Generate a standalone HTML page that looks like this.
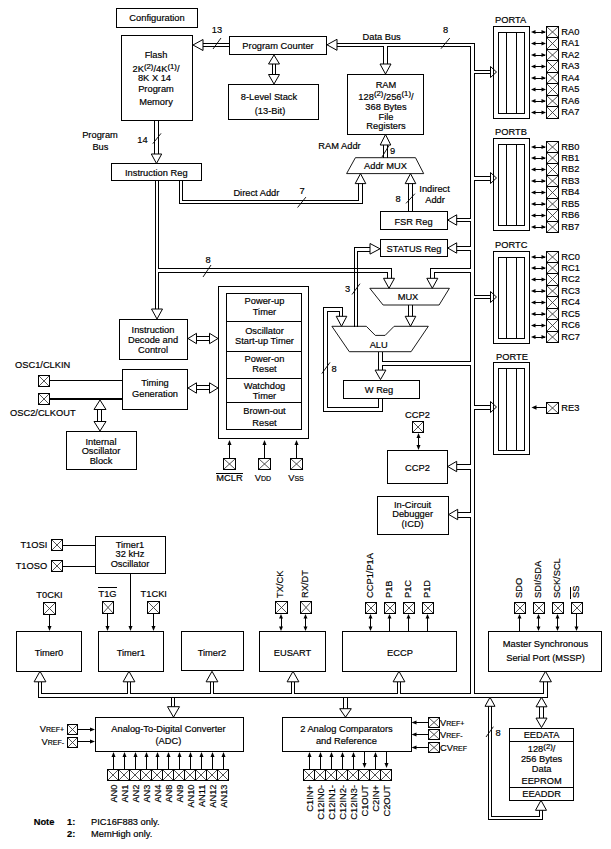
<!DOCTYPE html>
<html><head><meta charset="utf-8"><style>
html,body{margin:0;padding:0;background:#fff;width:611px;height:849px;overflow:hidden}
svg{display:block}
text{font-family:"Liberation Sans",sans-serif;fill:#000;stroke:#000;stroke-width:0.18px}
</style></head><body>
<svg width="611" height="849" viewBox="0 0 611 849">
<rect width="611" height="849" fill="#fff"/>
<g fill="#000">
<rect x="116" y="8" width="82" height="1"/>
<rect x="116" y="27" width="82" height="1"/>
<rect x="116" y="8" width="1" height="20"/>
<rect x="197" y="8" width="1" height="20"/>
<text x="157" y="20.5" font-size="9.3" text-anchor="middle">Configuration</text>
<rect x="121" y="35" width="72" height="1"/>
<rect x="121" y="120" width="72" height="1"/>
<rect x="121" y="35" width="1" height="86"/>
<rect x="192" y="35" width="1" height="86"/>
<text x="156" y="58" font-size="9.3" text-anchor="middle">Flash</text>
<text x="156" y="72" font-size="9.3" text-anchor="middle">2K<tspan font-size="7.8" dy="-3.5">(2)</tspan><tspan dy="3.5">/4K</tspan><tspan font-size="7.8" dy="-3.5">(1)</tspan><tspan dy="3.5">/</tspan></text>
<text x="154.5" y="80.5" font-size="9.3" text-anchor="middle">8K X 14</text>
<text x="156" y="91.7" font-size="9.3" text-anchor="middle">Program</text>
<text x="156" y="105" font-size="9.3" text-anchor="middle">Memory</text>
<rect x="229" y="36" width="98" height="1"/>
<rect x="229" y="54" width="98" height="1"/>
<rect x="229" y="36" width="1" height="19"/>
<rect x="326" y="36" width="1" height="19"/>
<text x="278" y="49" font-size="9.3" text-anchor="middle">Program Counter</text>
<rect x="203" y="43" width="26" height="1"/>
<rect x="203" y="46" width="26" height="1"/>
<polygon points="193,45 203,39.5 203,50.5" fill="#fff" stroke="#000" stroke-width="1"/>
<text x="217" y="33" font-size="9.3" text-anchor="middle">13</text>
<line x1="213" y1="49" x2="221" y2="38" stroke="#000" stroke-width="0.9"/>
<rect x="228" y="84" width="91" height="1"/>
<rect x="228" y="119" width="91" height="1"/>
<rect x="228" y="84" width="1" height="36"/>
<rect x="318" y="84" width="1" height="36"/>
<text x="269" y="99.5" font-size="9.3" text-anchor="middle">8-Level Stack</text>
<text x="270" y="113.5" font-size="9.3" text-anchor="middle">(13-Bit)</text>
<rect x="272" y="64" width="1" height="11"/>
<rect x="275" y="64" width="1" height="11"/>
<polygon points="274,55 268.5,64 279.5,64" fill="#fff" stroke="#000" stroke-width="1"/>
<polygon points="274,84 268.5,74.5 279.5,74.5" fill="#fff" stroke="#000" stroke-width="1"/>
<rect x="337" y="43" width="138" height="1"/>
<rect x="337" y="46" width="47" height="1"/>
<rect x="388" y="46" width="83" height="1"/>
<polygon points="327,44.8 337,39.3 337,50.3" fill="#fff" stroke="#000" stroke-width="1"/>
<text x="362.5" y="39.6" font-size="9.3" text-anchor="start">Data Bus</text>
<rect x="383" y="46" width="1" height="19"/>
<rect x="387" y="46" width="1" height="19"/>
<polygon points="385.5,74 380.0,64 391.0,64" fill="#fff" stroke="#000" stroke-width="1"/>
<text x="445.5" y="33" font-size="9.3" text-anchor="middle">8</text>
<line x1="441" y1="48.7" x2="449.8" y2="38" stroke="#000" stroke-width="0.9"/>
<rect x="347" y="74" width="77" height="1"/>
<rect x="347" y="134" width="77" height="1"/>
<rect x="347" y="74" width="1" height="61"/>
<rect x="423" y="74" width="1" height="61"/>
<text x="386" y="87.5" font-size="9.3" text-anchor="middle">RAM</text>
<text x="386" y="99.5" font-size="9.3" text-anchor="middle">128<tspan font-size="7.8" dy="-3.5">(2)</tspan><tspan dy="3.5">/256</tspan><tspan font-size="7.8" dy="-3.5">(1)</tspan><tspan dy="3.5">/</tspan></text>
<text x="386" y="109.5" font-size="9.3" text-anchor="middle">368 Bytes</text>
<text x="386" y="119.5" font-size="9.3" text-anchor="middle">File</text>
<text x="386" y="128.5" font-size="9.3" text-anchor="middle">Registers</text>
<rect x="474" y="43" width="1" height="28"/>
<rect x="470" y="46" width="1" height="173"/>
<rect x="474" y="70" width="17" height="1"/>
<rect x="474" y="73" width="17" height="1"/>
<polygon points="496.5,72 490.5,66.5 490.5,77.5" fill="none" stroke="#000" stroke-width="1"/>
<rect x="474" y="73" width="1" height="104"/>
<rect x="474" y="176" width="17" height="1"/>
<rect x="474" y="180" width="17" height="1"/>
<polygon points="496.5,178 490.5,172.5 490.5,183.5" fill="none" stroke="#000" stroke-width="1"/>
<rect x="474" y="180" width="1" height="116"/>
<rect x="474" y="295" width="17" height="1"/>
<rect x="474" y="298" width="17" height="1"/>
<polygon points="496.5,297 490.5,291.5 490.5,302.5" fill="none" stroke="#000" stroke-width="1"/>
<rect x="474" y="298" width="1" height="108"/>
<rect x="474" y="405" width="17" height="1"/>
<rect x="474" y="409" width="17" height="1"/>
<polygon points="496.5,407 490.5,401.5 490.5,412.5" fill="none" stroke="#000" stroke-width="1"/>
<rect x="474" y="409" width="1" height="285"/>
<rect x="456" y="218" width="15" height="1"/>
<rect x="456" y="221" width="15" height="1"/>
<polygon points="447.7,220 456.7,214.8 456.7,225.2" fill="#fff" stroke="#000" stroke-width="1"/>
<rect x="470" y="221" width="1" height="26"/>
<rect x="456" y="246" width="15" height="1"/>
<rect x="456" y="250" width="15" height="1"/>
<polygon points="447.7,248 456.7,242.8 456.7,253.2" fill="#fff" stroke="#000" stroke-width="1"/>
<rect x="470" y="250" width="1" height="19"/>
<rect x="430" y="268" width="41" height="1"/>
<rect x="434" y="272" width="37" height="1"/>
<rect x="470" y="272" width="1" height="90"/>
<rect x="382" y="361" width="89" height="1"/>
<rect x="382" y="365" width="89" height="1"/>
<rect x="470" y="365" width="1" height="100"/>
<rect x="457" y="464" width="14" height="1"/>
<rect x="457" y="469" width="14" height="1"/>
<polygon points="447.7,466.5 456.7,461.3 456.7,471.7" fill="#fff" stroke="#000" stroke-width="1"/>
<rect x="470" y="469" width="1" height="44"/>
<rect x="458" y="512" width="13" height="1"/>
<rect x="458" y="517" width="13" height="1"/>
<polygon points="448.7,514.5 457.7,509.3 457.7,519.7" fill="#fff" stroke="#000" stroke-width="1"/>
<rect x="470" y="517" width="1" height="177"/>
<rect x="493" y="26" width="37" height="1"/>
<rect x="493" y="118" width="37" height="1"/>
<rect x="493" y="26" width="1" height="93"/>
<rect x="529" y="26" width="1" height="93"/>
<rect x="498" y="32" width="27" height="1"/>
<rect x="498" y="113" width="27" height="1"/>
<rect x="498" y="32" width="1" height="82"/>
<rect x="524" y="32" width="1" height="82"/>
<rect x="506" y="32" width="1" height="82"/>
<rect x="516" y="32" width="1" height="82"/>
<text x="495" y="23" font-size="9.3" text-anchor="start">PORTA</text>
<line x1="547" y1="27" x2="558" y2="37" stroke="#333" stroke-width="0.85"/>
<line x1="558" y1="27" x2="547" y2="37" stroke="#333" stroke-width="0.85"/>
<rect x="546" y="26" width="13" height="1"/>
<rect x="546" y="37" width="13" height="1"/>
<rect x="546" y="26" width="1" height="12"/>
<rect x="558" y="26" width="1" height="12"/>
<rect x="533" y="32" width="12" height="1"/>
<polygon points="531,32.0 535.5,30.0 535.5,34.0"/>
<polygon points="546,32.0 541.5,30.0 541.5,34.0"/>
<text x="561.3" y="34.5" font-size="9.3" text-anchor="start">RA0</text>
<line x1="547" y1="38" x2="558" y2="49" stroke="#333" stroke-width="0.85"/>
<line x1="558" y1="38" x2="547" y2="49" stroke="#333" stroke-width="0.85"/>
<rect x="546" y="37" width="13" height="1"/>
<rect x="546" y="49" width="13" height="1"/>
<rect x="546" y="37" width="1" height="13"/>
<rect x="558" y="37" width="1" height="13"/>
<rect x="533" y="43" width="12" height="1"/>
<polygon points="531,43.5 535.5,41.5 535.5,45.5"/>
<polygon points="546,43.5 541.5,41.5 541.5,45.5"/>
<text x="561.3" y="45.5" font-size="9.3" text-anchor="start">RA1</text>
<line x1="547" y1="50" x2="558" y2="60" stroke="#333" stroke-width="0.85"/>
<line x1="558" y1="50" x2="547" y2="60" stroke="#333" stroke-width="0.85"/>
<rect x="546" y="49" width="13" height="1"/>
<rect x="546" y="60" width="13" height="1"/>
<rect x="546" y="49" width="1" height="12"/>
<rect x="558" y="49" width="1" height="12"/>
<rect x="533" y="55" width="12" height="1"/>
<polygon points="531,55.0 535.5,53.0 535.5,57.0"/>
<polygon points="546,55.0 541.5,53.0 541.5,57.0"/>
<text x="561.3" y="57.5" font-size="9.3" text-anchor="start">RA2</text>
<line x1="547" y1="61" x2="558" y2="72" stroke="#333" stroke-width="0.85"/>
<line x1="558" y1="61" x2="547" y2="72" stroke="#333" stroke-width="0.85"/>
<rect x="546" y="60" width="13" height="1"/>
<rect x="546" y="72" width="13" height="1"/>
<rect x="546" y="60" width="1" height="13"/>
<rect x="558" y="60" width="1" height="13"/>
<rect x="533" y="66" width="12" height="1"/>
<polygon points="531,66.5 535.5,64.5 535.5,68.5"/>
<polygon points="546,66.5 541.5,64.5 541.5,68.5"/>
<text x="561.3" y="68.5" font-size="9.3" text-anchor="start">RA3</text>
<line x1="547" y1="73" x2="558" y2="83" stroke="#333" stroke-width="0.85"/>
<line x1="558" y1="73" x2="547" y2="83" stroke="#333" stroke-width="0.85"/>
<rect x="546" y="72" width="13" height="1"/>
<rect x="546" y="83" width="13" height="1"/>
<rect x="546" y="72" width="1" height="12"/>
<rect x="558" y="72" width="1" height="12"/>
<rect x="533" y="78" width="12" height="1"/>
<polygon points="531,78.0 535.5,76.0 535.5,80.0"/>
<polygon points="546,78.0 541.5,76.0 541.5,80.0"/>
<text x="561.3" y="80.5" font-size="9.3" text-anchor="start">RA4</text>
<line x1="547" y1="84" x2="558" y2="95" stroke="#333" stroke-width="0.85"/>
<line x1="558" y1="84" x2="547" y2="95" stroke="#333" stroke-width="0.85"/>
<rect x="546" y="83" width="13" height="1"/>
<rect x="546" y="95" width="13" height="1"/>
<rect x="546" y="83" width="1" height="13"/>
<rect x="558" y="83" width="1" height="13"/>
<rect x="533" y="89" width="12" height="1"/>
<polygon points="531,89.5 535.5,87.5 535.5,91.5"/>
<polygon points="546,89.5 541.5,87.5 541.5,91.5"/>
<text x="561.3" y="91.5" font-size="9.3" text-anchor="start">RA5</text>
<line x1="547" y1="96" x2="558" y2="106" stroke="#333" stroke-width="0.85"/>
<line x1="558" y1="96" x2="547" y2="106" stroke="#333" stroke-width="0.85"/>
<rect x="546" y="95" width="13" height="1"/>
<rect x="546" y="106" width="13" height="1"/>
<rect x="546" y="95" width="1" height="12"/>
<rect x="558" y="95" width="1" height="12"/>
<rect x="533" y="101" width="12" height="1"/>
<polygon points="531,101.0 535.5,99.0 535.5,103.0"/>
<polygon points="546,101.0 541.5,99.0 541.5,103.0"/>
<text x="561.3" y="103.5" font-size="9.3" text-anchor="start">RA6</text>
<line x1="547" y1="107" x2="558" y2="118" stroke="#333" stroke-width="0.85"/>
<line x1="558" y1="107" x2="547" y2="118" stroke="#333" stroke-width="0.85"/>
<rect x="546" y="106" width="13" height="1"/>
<rect x="546" y="118" width="13" height="1"/>
<rect x="546" y="106" width="1" height="13"/>
<rect x="558" y="106" width="1" height="13"/>
<rect x="533" y="112" width="12" height="1"/>
<polygon points="531,112.5 535.5,110.5 535.5,114.5"/>
<polygon points="546,112.5 541.5,110.5 541.5,114.5"/>
<text x="561.3" y="114.5" font-size="9.3" text-anchor="start">RA7</text>
<rect x="493" y="138" width="37" height="1"/>
<rect x="493" y="230" width="37" height="1"/>
<rect x="493" y="138" width="1" height="93"/>
<rect x="529" y="138" width="1" height="93"/>
<rect x="498" y="144" width="27" height="1"/>
<rect x="498" y="225" width="27" height="1"/>
<rect x="498" y="144" width="1" height="82"/>
<rect x="524" y="144" width="1" height="82"/>
<rect x="506" y="144" width="1" height="82"/>
<rect x="516" y="144" width="1" height="82"/>
<text x="495" y="135" font-size="9.3" text-anchor="start">PORTB</text>
<line x1="547" y1="142" x2="558" y2="152" stroke="#333" stroke-width="0.85"/>
<line x1="558" y1="142" x2="547" y2="152" stroke="#333" stroke-width="0.85"/>
<rect x="546" y="141" width="13" height="1"/>
<rect x="546" y="152" width="13" height="1"/>
<rect x="546" y="141" width="1" height="12"/>
<rect x="558" y="141" width="1" height="12"/>
<rect x="533" y="147" width="12" height="1"/>
<polygon points="531,147.0 535.5,145.0 535.5,149.0"/>
<polygon points="546,147.0 541.5,145.0 541.5,149.0"/>
<text x="561.3" y="149.5" font-size="9.3" text-anchor="start">RB0</text>
<line x1="547" y1="153" x2="558" y2="163" stroke="#333" stroke-width="0.85"/>
<line x1="558" y1="153" x2="547" y2="163" stroke="#333" stroke-width="0.85"/>
<rect x="546" y="152" width="13" height="1"/>
<rect x="546" y="163" width="13" height="1"/>
<rect x="546" y="152" width="1" height="12"/>
<rect x="558" y="152" width="1" height="12"/>
<rect x="533" y="158" width="12" height="1"/>
<polygon points="531,158.0 535.5,156.0 535.5,160.0"/>
<polygon points="546,158.0 541.5,156.0 541.5,160.0"/>
<text x="561.3" y="160.5" font-size="9.3" text-anchor="start">RB1</text>
<line x1="547" y1="164" x2="558" y2="175" stroke="#333" stroke-width="0.85"/>
<line x1="558" y1="164" x2="547" y2="175" stroke="#333" stroke-width="0.85"/>
<rect x="546" y="163" width="13" height="1"/>
<rect x="546" y="175" width="13" height="1"/>
<rect x="546" y="163" width="1" height="13"/>
<rect x="558" y="163" width="1" height="13"/>
<rect x="533" y="169" width="12" height="1"/>
<polygon points="531,169.5 535.5,167.5 535.5,171.5"/>
<polygon points="546,169.5 541.5,167.5 541.5,171.5"/>
<text x="561.3" y="171.5" font-size="9.3" text-anchor="start">RB2</text>
<line x1="547" y1="176" x2="558" y2="186" stroke="#333" stroke-width="0.85"/>
<line x1="558" y1="176" x2="547" y2="186" stroke="#333" stroke-width="0.85"/>
<rect x="546" y="175" width="13" height="1"/>
<rect x="546" y="186" width="13" height="1"/>
<rect x="546" y="175" width="1" height="12"/>
<rect x="558" y="175" width="1" height="12"/>
<rect x="533" y="181" width="12" height="1"/>
<polygon points="531,181.0 535.5,179.0 535.5,183.0"/>
<polygon points="546,181.0 541.5,179.0 541.5,183.0"/>
<text x="561.3" y="183.5" font-size="9.3" text-anchor="start">RB3</text>
<line x1="547" y1="187" x2="558" y2="198" stroke="#333" stroke-width="0.85"/>
<line x1="558" y1="187" x2="547" y2="198" stroke="#333" stroke-width="0.85"/>
<rect x="546" y="186" width="13" height="1"/>
<rect x="546" y="198" width="13" height="1"/>
<rect x="546" y="186" width="1" height="13"/>
<rect x="558" y="186" width="1" height="13"/>
<rect x="533" y="192" width="12" height="1"/>
<polygon points="531,192.5 535.5,190.5 535.5,194.5"/>
<polygon points="546,192.5 541.5,190.5 541.5,194.5"/>
<text x="561.3" y="194.5" font-size="9.3" text-anchor="start">RB4</text>
<line x1="547" y1="199" x2="558" y2="209" stroke="#333" stroke-width="0.85"/>
<line x1="558" y1="199" x2="547" y2="209" stroke="#333" stroke-width="0.85"/>
<rect x="546" y="198" width="13" height="1"/>
<rect x="546" y="209" width="13" height="1"/>
<rect x="546" y="198" width="1" height="12"/>
<rect x="558" y="198" width="1" height="12"/>
<rect x="533" y="204" width="12" height="1"/>
<polygon points="531,204.0 535.5,202.0 535.5,206.0"/>
<polygon points="546,204.0 541.5,202.0 541.5,206.0"/>
<text x="561.3" y="206.5" font-size="9.3" text-anchor="start">RB5</text>
<line x1="547" y1="210" x2="558" y2="221" stroke="#333" stroke-width="0.85"/>
<line x1="558" y1="210" x2="547" y2="221" stroke="#333" stroke-width="0.85"/>
<rect x="546" y="209" width="13" height="1"/>
<rect x="546" y="221" width="13" height="1"/>
<rect x="546" y="209" width="1" height="13"/>
<rect x="558" y="209" width="1" height="13"/>
<rect x="533" y="215" width="12" height="1"/>
<polygon points="531,215.5 535.5,213.5 535.5,217.5"/>
<polygon points="546,215.5 541.5,213.5 541.5,217.5"/>
<text x="561.3" y="217.5" font-size="9.3" text-anchor="start">RB6</text>
<line x1="547" y1="222" x2="558" y2="232" stroke="#333" stroke-width="0.85"/>
<line x1="558" y1="222" x2="547" y2="232" stroke="#333" stroke-width="0.85"/>
<rect x="546" y="221" width="13" height="1"/>
<rect x="546" y="232" width="13" height="1"/>
<rect x="546" y="221" width="1" height="12"/>
<rect x="558" y="221" width="1" height="12"/>
<rect x="533" y="227" width="12" height="1"/>
<polygon points="531,227.0 535.5,225.0 535.5,229.0"/>
<polygon points="546,227.0 541.5,225.0 541.5,229.0"/>
<text x="561.3" y="229.5" font-size="9.3" text-anchor="start">RB7</text>
<rect x="493" y="251" width="37" height="1"/>
<rect x="493" y="343" width="37" height="1"/>
<rect x="493" y="251" width="1" height="93"/>
<rect x="529" y="251" width="1" height="93"/>
<rect x="498" y="257" width="27" height="1"/>
<rect x="498" y="338" width="27" height="1"/>
<rect x="498" y="257" width="1" height="82"/>
<rect x="524" y="257" width="1" height="82"/>
<rect x="506" y="257" width="1" height="82"/>
<rect x="516" y="257" width="1" height="82"/>
<text x="495" y="248" font-size="9.3" text-anchor="start">PORTC</text>
<line x1="547" y1="252" x2="558" y2="262" stroke="#333" stroke-width="0.85"/>
<line x1="558" y1="252" x2="547" y2="262" stroke="#333" stroke-width="0.85"/>
<rect x="546" y="251" width="13" height="1"/>
<rect x="546" y="262" width="13" height="1"/>
<rect x="546" y="251" width="1" height="12"/>
<rect x="558" y="251" width="1" height="12"/>
<rect x="533" y="257" width="12" height="1"/>
<polygon points="531,257.0 535.5,255.0 535.5,259.0"/>
<polygon points="546,257.0 541.5,255.0 541.5,259.0"/>
<text x="561.3" y="259.5" font-size="9.3" text-anchor="start">RC0</text>
<line x1="547" y1="263" x2="558" y2="273" stroke="#333" stroke-width="0.85"/>
<line x1="558" y1="263" x2="547" y2="273" stroke="#333" stroke-width="0.85"/>
<rect x="546" y="262" width="13" height="1"/>
<rect x="546" y="273" width="13" height="1"/>
<rect x="546" y="262" width="1" height="12"/>
<rect x="558" y="262" width="1" height="12"/>
<rect x="533" y="268" width="12" height="1"/>
<polygon points="531,268.0 535.5,266.0 535.5,270.0"/>
<polygon points="546,268.0 541.5,266.0 541.5,270.0"/>
<text x="561.3" y="270.5" font-size="9.3" text-anchor="start">RC1</text>
<line x1="547" y1="274" x2="558" y2="285" stroke="#333" stroke-width="0.85"/>
<line x1="558" y1="274" x2="547" y2="285" stroke="#333" stroke-width="0.85"/>
<rect x="546" y="273" width="13" height="1"/>
<rect x="546" y="285" width="13" height="1"/>
<rect x="546" y="273" width="1" height="13"/>
<rect x="558" y="273" width="1" height="13"/>
<rect x="533" y="279" width="12" height="1"/>
<polygon points="531,279.5 535.5,277.5 535.5,281.5"/>
<polygon points="546,279.5 541.5,277.5 541.5,281.5"/>
<text x="561.3" y="281.5" font-size="9.3" text-anchor="start">RC2</text>
<line x1="547" y1="286" x2="558" y2="296" stroke="#333" stroke-width="0.85"/>
<line x1="558" y1="286" x2="547" y2="296" stroke="#333" stroke-width="0.85"/>
<rect x="546" y="285" width="13" height="1"/>
<rect x="546" y="296" width="13" height="1"/>
<rect x="546" y="285" width="1" height="12"/>
<rect x="558" y="285" width="1" height="12"/>
<rect x="533" y="291" width="12" height="1"/>
<polygon points="531,291.0 535.5,289.0 535.5,293.0"/>
<polygon points="546,291.0 541.5,289.0 541.5,293.0"/>
<text x="561.3" y="293.5" font-size="9.3" text-anchor="start">RC3</text>
<line x1="547" y1="297" x2="558" y2="308" stroke="#333" stroke-width="0.85"/>
<line x1="558" y1="297" x2="547" y2="308" stroke="#333" stroke-width="0.85"/>
<rect x="546" y="296" width="13" height="1"/>
<rect x="546" y="308" width="13" height="1"/>
<rect x="546" y="296" width="1" height="13"/>
<rect x="558" y="296" width="1" height="13"/>
<rect x="533" y="302" width="12" height="1"/>
<polygon points="531,302.5 535.5,300.5 535.5,304.5"/>
<polygon points="546,302.5 541.5,300.5 541.5,304.5"/>
<text x="561.3" y="304.5" font-size="9.3" text-anchor="start">RC4</text>
<line x1="547" y1="309" x2="558" y2="319" stroke="#333" stroke-width="0.85"/>
<line x1="558" y1="309" x2="547" y2="319" stroke="#333" stroke-width="0.85"/>
<rect x="546" y="308" width="13" height="1"/>
<rect x="546" y="319" width="13" height="1"/>
<rect x="546" y="308" width="1" height="12"/>
<rect x="558" y="308" width="1" height="12"/>
<rect x="533" y="314" width="12" height="1"/>
<polygon points="531,314.0 535.5,312.0 535.5,316.0"/>
<polygon points="546,314.0 541.5,312.0 541.5,316.0"/>
<text x="561.3" y="316.5" font-size="9.3" text-anchor="start">RC5</text>
<line x1="547" y1="320" x2="558" y2="331" stroke="#333" stroke-width="0.85"/>
<line x1="558" y1="320" x2="547" y2="331" stroke="#333" stroke-width="0.85"/>
<rect x="546" y="319" width="13" height="1"/>
<rect x="546" y="331" width="13" height="1"/>
<rect x="546" y="319" width="1" height="13"/>
<rect x="558" y="319" width="1" height="13"/>
<rect x="533" y="325" width="12" height="1"/>
<polygon points="531,325.5 535.5,323.5 535.5,327.5"/>
<polygon points="546,325.5 541.5,323.5 541.5,327.5"/>
<text x="561.3" y="327.5" font-size="9.3" text-anchor="start">RC6</text>
<line x1="547" y1="332" x2="558" y2="342" stroke="#333" stroke-width="0.85"/>
<line x1="558" y1="332" x2="547" y2="342" stroke="#333" stroke-width="0.85"/>
<rect x="546" y="331" width="13" height="1"/>
<rect x="546" y="342" width="13" height="1"/>
<rect x="546" y="331" width="1" height="12"/>
<rect x="558" y="331" width="1" height="12"/>
<rect x="533" y="337" width="12" height="1"/>
<polygon points="531,337.0 535.5,335.0 535.5,339.0"/>
<polygon points="546,337.0 541.5,335.0 541.5,339.0"/>
<text x="561.3" y="339.5" font-size="9.3" text-anchor="start">RC7</text>
<rect x="493" y="362" width="37" height="1"/>
<rect x="493" y="454" width="37" height="1"/>
<rect x="493" y="362" width="1" height="93"/>
<rect x="529" y="362" width="1" height="93"/>
<rect x="498" y="368" width="27" height="1"/>
<rect x="498" y="450" width="27" height="1"/>
<rect x="498" y="368" width="1" height="83"/>
<rect x="524" y="368" width="1" height="83"/>
<rect x="506" y="368" width="1" height="83"/>
<rect x="516" y="368" width="1" height="83"/>
<text x="496" y="359.5" font-size="9.3" text-anchor="start">PORTE</text>
<line x1="547" y1="403" x2="558" y2="413" stroke="#333" stroke-width="0.85"/>
<line x1="558" y1="403" x2="547" y2="413" stroke="#333" stroke-width="0.85"/>
<rect x="546" y="402" width="13" height="1"/>
<rect x="546" y="413" width="13" height="1"/>
<rect x="546" y="402" width="1" height="12"/>
<rect x="558" y="402" width="1" height="12"/>
<rect x="535" y="407" width="12" height="1"/>
<polygon points="531.5,407.5 536.5,405.3 536.5,409.7"/>
<text x="561.3" y="411" font-size="9.3" text-anchor="start">RE3</text>
<rect x="380" y="211" width="68" height="1"/>
<rect x="380" y="229" width="68" height="1"/>
<rect x="380" y="211" width="1" height="19"/>
<rect x="447" y="211" width="1" height="19"/>
<text x="413.5" y="224.5" font-size="9.3" text-anchor="middle">FSR Reg</text>
<rect x="380" y="239" width="68" height="1"/>
<rect x="380" y="256" width="68" height="1"/>
<rect x="380" y="239" width="1" height="18"/>
<rect x="447" y="239" width="1" height="18"/>
<text x="414" y="252" font-size="9.3" text-anchor="middle">STATUS Reg</text>
<polygon points="355.4,157.7 415.5,157.7 423.7,173.6 346.6,173.6" fill="none" stroke="#000" stroke-width="0.9"/>
<text x="385.5" y="168.5" font-size="9.3" text-anchor="middle">Addr MUX</text>
<rect x="383" y="145" width="1" height="13"/>
<rect x="387" y="145" width="1" height="13"/>
<polygon points="385.5,134.5 380.2,145.0 390.8,145.0" fill="#fff" stroke="#000" stroke-width="1"/>
<text x="392.5" y="154" font-size="9.3" text-anchor="middle">9</text>
<line x1="382" y1="157" x2="389" y2="145.5" stroke="#000" stroke-width="0.9"/>
<text x="318.3" y="148.6" font-size="9.3" text-anchor="start">RAM Addr</text>
<rect x="111" y="163" width="91" height="1"/>
<rect x="111" y="180" width="91" height="1"/>
<rect x="111" y="163" width="1" height="18"/>
<rect x="201" y="163" width="1" height="18"/>
<text x="156.3" y="176.3" font-size="9.3" text-anchor="middle">Instruction Reg</text>
<rect x="154" y="121" width="1" height="33"/>
<rect x="158" y="121" width="1" height="33"/>
<polygon points="156.5,163.5 151.3,154.0 161.7,154.0" fill="#fff" stroke="#000" stroke-width="1"/>
<text x="142.5" y="143" font-size="9.3" text-anchor="middle">14</text>
<line x1="152.8" y1="143.7" x2="161" y2="133.4" stroke="#000" stroke-width="0.9"/>
<text x="100" y="138" font-size="9.3" text-anchor="middle">Program</text>
<text x="100.4" y="149.6" font-size="9.3" text-anchor="middle">Bus</text>
<rect x="179" y="180" width="1" height="24"/>
<rect x="182" y="180" width="1" height="21"/>
<rect x="182" y="200" width="177" height="1"/>
<rect x="179" y="203" width="184" height="1"/>
<rect x="358" y="183" width="1" height="18"/>
<rect x="362" y="183" width="1" height="21"/>
<polygon points="360.5,173.6 355.2,183.6 365.8,183.6" fill="#fff" stroke="#000" stroke-width="1"/>
<text x="233.4" y="195.7" font-size="9.3" text-anchor="start">Direct Addr</text>
<text x="302" y="194.2" font-size="9.3" text-anchor="middle">7</text>
<line x1="297.6" y1="207.5" x2="305.9" y2="197.1" stroke="#000" stroke-width="0.9"/>
<rect x="408" y="183" width="1" height="29"/>
<rect x="412" y="183" width="1" height="29"/>
<polygon points="410.5,173.6 405.2,183.6 415.8,183.6" fill="#fff" stroke="#000" stroke-width="1"/>
<text x="398" y="202" font-size="9.3" text-anchor="middle">8</text>
<line x1="406" y1="203.4" x2="414.9" y2="193.7" stroke="#000" stroke-width="0.9"/>
<text x="419.3" y="192.2" font-size="9.3" text-anchor="start">Indirect</text>
<text x="425.2" y="202.5" font-size="9.3" text-anchor="start">Addr</text>
<rect x="155" y="180" width="1" height="130"/>
<rect x="158" y="180" width="1" height="89"/>
<rect x="158" y="272" width="1" height="38"/>
<polygon points="157,319 151.5,309 162.5,309" fill="#fff" stroke="#000" stroke-width="1"/>
<rect x="158" y="268" width="234" height="1"/>
<rect x="158" y="272" width="230" height="1"/>
<rect x="391" y="268" width="1" height="11"/>
<rect x="387" y="272" width="1" height="7"/>
<text x="208" y="262.5" font-size="9.3" text-anchor="middle">8</text>
<line x1="203" y1="277" x2="211" y2="265" stroke="#000" stroke-width="0.9"/>
<polygon points="369.8,288.3 449.4,288.3 439.1,305 383.1,305" fill="none" stroke="#000" stroke-width="0.9"/>
<text x="408" y="300" font-size="9.3" text-anchor="middle">MUX</text>
<polygon points="389,288.3 383.5,278.3 394.5,278.3" fill="#fff" stroke="#000" stroke-width="1"/>
<rect x="430" y="268" width="1" height="11"/>
<rect x="434" y="272" width="1" height="7"/>
<polygon points="432.3,288.3 426.8,278.3 437.8,278.3" fill="#fff" stroke="#000" stroke-width="1"/>
<rect x="408" y="305" width="1" height="12"/>
<rect x="412" y="305" width="1" height="12"/>
<polygon points="410.5,326.3 405.2,316.3 415.8,316.3" fill="#fff" stroke="#000" stroke-width="1"/>
<polygon points="331.9,326.3 366.3,326.3 375.3,335.4 385.1,335.4 394.1,326.3 428.3,326.3 411.1,351.7 349.3,351.7" fill="none" stroke="#000" stroke-width="0.9"/>
<text x="378.7" y="347.6" font-size="9.3" text-anchor="middle">ALU</text>
<rect x="354" y="247" width="1" height="80"/>
<rect x="357" y="251" width="1" height="76"/>
<rect x="354" y="247" width="17" height="1"/>
<rect x="357" y="251" width="14" height="1"/>
<polygon points="380,248.8 370,243.5 370,254.10000000000002" fill="#fff" stroke="#000" stroke-width="1"/>
<text x="347.5" y="291.6" font-size="9.3" text-anchor="middle">3</text>
<line x1="352" y1="294.5" x2="360" y2="283.7" stroke="#000" stroke-width="0.9"/>
<rect x="378" y="352" width="1" height="19"/>
<rect x="382" y="352" width="1" height="10"/>
<rect x="382" y="365" width="1" height="6"/>
<polygon points="380.5,379.6 375.1,370.1 385.9,370.1" fill="#fff" stroke="#000" stroke-width="1"/>
<rect x="343" y="380" width="77" height="1"/>
<rect x="343" y="398" width="77" height="1"/>
<rect x="343" y="380" width="1" height="19"/>
<rect x="419" y="380" width="1" height="19"/>
<text x="379" y="393.2" font-size="9.3" text-anchor="middle">W Reg</text>
<rect x="378" y="398" width="1" height="10"/>
<rect x="382" y="398" width="1" height="14"/>
<rect x="327" y="407" width="52" height="1"/>
<rect x="323" y="411" width="60" height="1"/>
<rect x="327" y="311" width="1" height="97"/>
<rect x="323" y="307" width="1" height="105"/>
<rect x="327" y="311" width="13" height="1"/>
<rect x="323" y="307" width="20" height="1"/>
<rect x="339" y="311" width="1" height="6"/>
<rect x="342" y="307" width="1" height="10"/>
<polygon points="341.5,326.3 336.2,316.3 346.8,316.3" fill="#fff" stroke="#000" stroke-width="1"/>
<text x="334" y="372" font-size="9.3" text-anchor="middle">8</text>
<line x1="321.8" y1="373.6" x2="330" y2="362.4" stroke="#000" stroke-width="0.9"/>
<rect x="218" y="286" width="91" height="1"/>
<rect x="218" y="438" width="91" height="1"/>
<rect x="218" y="286" width="1" height="153"/>
<rect x="308" y="286" width="1" height="153"/>
<rect x="226" y="293" width="76" height="1"/>
<rect x="226" y="429" width="76" height="1"/>
<rect x="226" y="293" width="1" height="137"/>
<rect x="301" y="293" width="1" height="137"/>
<rect x="226" y="321" width="76" height="1"/>
<rect x="226" y="351" width="76" height="1"/>
<rect x="226" y="378" width="76" height="1"/>
<rect x="226" y="402" width="76" height="1"/>
<text x="264.5" y="304.2" font-size="9.3" text-anchor="middle">Power-up</text>
<text x="264.5" y="314.8" font-size="9.3" text-anchor="middle">Timer</text>
<text x="264.5" y="334.1" font-size="9.3" text-anchor="middle">Oscillator</text>
<text x="264.5" y="343.8" font-size="9.3" text-anchor="middle">Start-up Timer</text>
<text x="264.5" y="362.4" font-size="9.3" text-anchor="middle">Power-on</text>
<text x="264.5" y="371.8" font-size="9.3" text-anchor="middle">Reset</text>
<text x="264.5" y="389" font-size="9.3" text-anchor="middle">Watchdog</text>
<text x="264.5" y="399.2" font-size="9.3" text-anchor="middle">Timer</text>
<text x="264.5" y="414.3" font-size="9.3" text-anchor="middle">Brown-out</text>
<text x="264.5" y="425.6" font-size="9.3" text-anchor="middle">Reset</text>
<line x1="224" y1="459" x2="235" y2="469" stroke="#333" stroke-width="0.85"/>
<line x1="235" y1="459" x2="224" y2="469" stroke="#333" stroke-width="0.85"/>
<rect x="223" y="458" width="13" height="1"/>
<rect x="223" y="469" width="13" height="1"/>
<rect x="223" y="458" width="1" height="12"/>
<rect x="235" y="458" width="1" height="12"/>
<rect x="229" y="444" width="1" height="14"/>
<polygon points="229.5,440 227.5,445 231.5,445"/>
<line x1="259" y1="459" x2="270" y2="469" stroke="#333" stroke-width="0.85"/>
<line x1="270" y1="459" x2="259" y2="469" stroke="#333" stroke-width="0.85"/>
<rect x="258" y="458" width="13" height="1"/>
<rect x="258" y="469" width="13" height="1"/>
<rect x="258" y="458" width="1" height="12"/>
<rect x="270" y="458" width="1" height="12"/>
<rect x="264" y="444" width="1" height="14"/>
<polygon points="264.5,440 262.5,445 266.5,445"/>
<line x1="291" y1="459" x2="302" y2="469" stroke="#333" stroke-width="0.85"/>
<line x1="302" y1="459" x2="291" y2="469" stroke="#333" stroke-width="0.85"/>
<rect x="290" y="458" width="13" height="1"/>
<rect x="290" y="469" width="13" height="1"/>
<rect x="290" y="458" width="1" height="12"/>
<rect x="302" y="458" width="1" height="12"/>
<rect x="296" y="444" width="1" height="14"/>
<polygon points="296.5,440 294.5,445 298.5,445"/>
<text x="229.5" y="481.3" font-size="9.3" text-anchor="middle">MCLR</text>
<rect x="216" y="473" width="27" height="1"/>
<text x="263" y="481.3" font-size="9.3" text-anchor="middle">V<tspan font-size="7">DD</tspan></text>
<text x="296" y="481.3" font-size="9.3" text-anchor="middle">V<tspan font-size="7">SS</tspan></text>
<rect x="119" y="319" width="69" height="1"/>
<rect x="119" y="359" width="69" height="1"/>
<rect x="119" y="319" width="1" height="41"/>
<rect x="187" y="319" width="1" height="41"/>
<text x="153" y="332.7" font-size="9.3" text-anchor="middle">Instruction</text>
<text x="153" y="342.5" font-size="9.3" text-anchor="middle">Decode and</text>
<text x="153" y="353.4" font-size="9.3" text-anchor="middle">Control</text>
<rect x="196.5" y="336" width="14.0" height="1"/>
<rect x="196.5" y="340" width="14.0" height="1"/>
<polygon points="188,338.5 196.5,333.3 196.5,343.7" fill="#fff" stroke="#000" stroke-width="1"/>
<polygon points="218,338.5 209.5,333.3 209.5,343.7" fill="#fff" stroke="#000" stroke-width="1"/>
<rect x="122" y="369" width="66" height="1"/>
<rect x="122" y="409" width="66" height="1"/>
<rect x="122" y="369" width="1" height="41"/>
<rect x="187" y="369" width="1" height="41"/>
<text x="155" y="386.1" font-size="9.3" text-anchor="middle">Timing</text>
<text x="155" y="396.7" font-size="9.3" text-anchor="middle">Generation</text>
<rect x="196.5" y="385" width="14.0" height="1"/>
<rect x="196.5" y="389" width="14.0" height="1"/>
<polygon points="188,388.0 196.5,382.8 196.5,393.2" fill="#fff" stroke="#000" stroke-width="1"/>
<polygon points="218,388.0 209.5,382.8 209.5,393.2" fill="#fff" stroke="#000" stroke-width="1"/>
<text x="15" y="368.4" font-size="9.3" text-anchor="start">OSC1/CLKIN</text>
<line x1="39" y1="376" x2="49" y2="386" stroke="#333" stroke-width="0.85"/>
<line x1="49" y1="376" x2="39" y2="386" stroke="#333" stroke-width="0.85"/>
<rect x="38" y="375" width="12" height="1"/>
<rect x="38" y="386" width="12" height="1"/>
<rect x="38" y="375" width="1" height="12"/>
<rect x="49" y="375" width="1" height="12"/>
<rect x="49" y="380" width="74" height="1"/>
<line x1="39" y1="394" x2="49" y2="404" stroke="#333" stroke-width="0.85"/>
<line x1="49" y1="394" x2="39" y2="404" stroke="#333" stroke-width="0.85"/>
<rect x="38" y="393" width="12" height="1"/>
<rect x="38" y="404" width="12" height="1"/>
<rect x="38" y="393" width="1" height="12"/>
<rect x="49" y="393" width="1" height="12"/>
<rect x="49" y="398" width="74" height="2"/>
<text x="10" y="415.5" font-size="9.3" text-anchor="start">OSC2/CLKOUT</text>
<rect x="97" y="409.5" width="1" height="13.0"/>
<rect x="101" y="409.5" width="1" height="13.0"/>
<polygon points="100.0,400 94.0,409.5 106.0,409.5" fill="#fff" stroke="#000" stroke-width="1"/>
<polygon points="100.0,431 94.0,421.5 106.0,421.5" fill="#fff" stroke="#000" stroke-width="1"/>
<rect x="66" y="431" width="71" height="1"/>
<rect x="66" y="469" width="71" height="1"/>
<rect x="66" y="431" width="1" height="39"/>
<rect x="136" y="431" width="1" height="39"/>
<text x="101" y="444.5" font-size="9.3" text-anchor="middle">Internal</text>
<text x="101" y="454" font-size="9.3" text-anchor="middle">Oscillator</text>
<text x="101" y="464.4" font-size="9.3" text-anchor="middle">Block</text>
<rect x="387" y="450" width="61" height="1"/>
<rect x="387" y="483" width="61" height="1"/>
<rect x="387" y="450" width="1" height="34"/>
<rect x="447" y="450" width="1" height="34"/>
<text x="417.5" y="471" font-size="9.3" text-anchor="middle">CCP2</text>
<line x1="413" y1="422" x2="423" y2="432" stroke="#333" stroke-width="0.85"/>
<line x1="423" y1="422" x2="413" y2="432" stroke="#333" stroke-width="0.85"/>
<rect x="412" y="421" width="12" height="1"/>
<rect x="412" y="432" width="12" height="1"/>
<rect x="412" y="421" width="1" height="12"/>
<rect x="423" y="421" width="1" height="12"/>
<text x="417.5" y="417.7" font-size="9.3" text-anchor="middle">CCP2</text>
<rect x="418" y="437" width="1" height="9"/>
<polygon points="418.5,433 416.5,438 420.5,438"/>
<polygon points="418.5,450 416.5,445 420.5,445"/>
<rect x="377" y="496" width="72" height="1"/>
<rect x="377" y="534" width="72" height="1"/>
<rect x="377" y="496" width="1" height="39"/>
<rect x="448" y="496" width="1" height="39"/>
<text x="412.6" y="507.7" font-size="9.3" text-anchor="middle">In-Circuit</text>
<text x="412.6" y="517.2" font-size="9.3" text-anchor="middle">Debugger</text>
<text x="412.6" y="527.2" font-size="9.3" text-anchor="middle">(ICD)</text>
<rect x="95" y="536" width="71" height="1"/>
<rect x="95" y="573" width="71" height="1"/>
<rect x="95" y="536" width="1" height="38"/>
<rect x="165" y="536" width="1" height="38"/>
<text x="130" y="547.5" font-size="9.3" text-anchor="middle">Timer1</text>
<text x="130" y="557.3" font-size="9.3" text-anchor="middle">32 kHz</text>
<text x="130" y="567.1" font-size="9.3" text-anchor="middle">Oscillator</text>
<text x="20.4" y="548.3" font-size="9.3" text-anchor="start">T1OSI</text>
<line x1="52" y1="540" x2="62" y2="550" stroke="#333" stroke-width="0.85"/>
<line x1="62" y1="540" x2="52" y2="550" stroke="#333" stroke-width="0.85"/>
<rect x="51" y="539" width="12" height="1"/>
<rect x="51" y="550" width="12" height="1"/>
<rect x="51" y="539" width="1" height="12"/>
<rect x="62" y="539" width="1" height="12"/>
<rect x="62" y="545" width="34" height="1"/>
<text x="15.7" y="569.1" font-size="9.3" text-anchor="start">T1OSO</text>
<line x1="52" y1="561" x2="62" y2="571" stroke="#333" stroke-width="0.85"/>
<line x1="62" y1="561" x2="52" y2="571" stroke="#333" stroke-width="0.85"/>
<rect x="51" y="560" width="12" height="1"/>
<rect x="51" y="571" width="12" height="1"/>
<rect x="51" y="560" width="1" height="12"/>
<rect x="62" y="560" width="1" height="12"/>
<rect x="62" y="566" width="34" height="1"/>
<rect x="16" y="631" width="66" height="1"/>
<rect x="16" y="671" width="66" height="1"/>
<rect x="16" y="631" width="1" height="41"/>
<rect x="81" y="631" width="1" height="41"/>
<text x="49" y="655.8" font-size="9.3" text-anchor="middle">Timer0</text>
<rect x="98" y="631" width="66" height="1"/>
<rect x="98" y="671" width="66" height="1"/>
<rect x="98" y="631" width="1" height="41"/>
<rect x="163" y="631" width="1" height="41"/>
<text x="131" y="655.8" font-size="9.3" text-anchor="middle">Timer1</text>
<rect x="181" y="631" width="63" height="1"/>
<rect x="181" y="670" width="63" height="1"/>
<rect x="181" y="631" width="1" height="40"/>
<rect x="243" y="631" width="1" height="40"/>
<text x="212" y="655.8" font-size="9.3" text-anchor="middle">Timer2</text>
<rect x="259" y="631" width="67" height="1"/>
<rect x="259" y="671" width="67" height="1"/>
<rect x="259" y="631" width="1" height="41"/>
<rect x="325" y="631" width="1" height="41"/>
<text x="292.5" y="655.6" font-size="9.3" text-anchor="middle">EUSART</text>
<rect x="342" y="631" width="115" height="1"/>
<rect x="342" y="671" width="115" height="1"/>
<rect x="342" y="631" width="1" height="41"/>
<rect x="456" y="631" width="1" height="41"/>
<text x="400" y="655.6" font-size="9.3" text-anchor="middle">ECCP</text>
<rect x="488" y="631" width="114" height="1"/>
<rect x="488" y="671" width="114" height="1"/>
<rect x="488" y="631" width="1" height="41"/>
<rect x="601" y="631" width="1" height="41"/>
<text x="545.5" y="647" font-size="9.3" text-anchor="middle">Master Synchronous</text>
<text x="545.5" y="660.6" font-size="9.3" text-anchor="middle">Serial Port (MSSP)</text>
<text x="49.5" y="597.8" font-size="9.3" text-anchor="middle">T0CKI</text>
<line x1="44" y1="603" x2="55" y2="614" stroke="#333" stroke-width="0.85"/>
<line x1="55" y1="603" x2="44" y2="614" stroke="#333" stroke-width="0.85"/>
<rect x="43" y="602" width="13" height="1"/>
<rect x="43" y="614" width="13" height="1"/>
<rect x="43" y="602" width="1" height="13"/>
<rect x="55" y="602" width="1" height="13"/>
<rect x="49" y="614" width="1" height="13"/>
<polygon points="49.5,631 47.5,626 51.5,626"/>
<text x="107.5" y="596.6" font-size="9.3" text-anchor="middle">T1G</text>
<rect x="98" y="587" width="19" height="1"/>
<line x1="103" y1="602" x2="113" y2="613" stroke="#333" stroke-width="0.85"/>
<line x1="113" y1="602" x2="103" y2="613" stroke="#333" stroke-width="0.85"/>
<rect x="102" y="601" width="12" height="1"/>
<rect x="102" y="613" width="12" height="1"/>
<rect x="102" y="601" width="1" height="13"/>
<rect x="113" y="601" width="1" height="13"/>
<rect x="107" y="613" width="1" height="14"/>
<polygon points="107.5,631 105.5,626 109.5,626"/>
<rect x="130" y="573" width="1" height="54"/>
<polygon points="130.5,631 128.5,626 132.5,626"/>
<text x="153.8" y="596.6" font-size="9.3" text-anchor="middle">T1CKI</text>
<line x1="148" y1="602" x2="159" y2="613" stroke="#333" stroke-width="0.85"/>
<line x1="159" y1="602" x2="148" y2="613" stroke="#333" stroke-width="0.85"/>
<rect x="147" y="601" width="13" height="1"/>
<rect x="147" y="613" width="13" height="1"/>
<rect x="147" y="601" width="1" height="13"/>
<rect x="159" y="601" width="1" height="13"/>
<rect x="153" y="614" width="1" height="13"/>
<polygon points="153.5,631 151.5,626 155.5,626"/>
<rect x="38" y="682" width="1" height="16"/>
<rect x="41" y="682" width="1" height="12"/>
<polygon points="40,671.3 34.1,681.8 45.9,681.8" fill="#fff" stroke="#000" stroke-width="1"/>
<rect x="127" y="682" width="1" height="12"/>
<rect x="130" y="682" width="1" height="12"/>
<polygon points="129,671.3 123.1,681.8 134.9,681.8" fill="#fff" stroke="#000" stroke-width="1"/>
<rect x="210" y="682" width="1" height="12"/>
<rect x="213" y="682" width="1" height="12"/>
<polygon points="212,671.3 206.1,681.8 217.9,681.8" fill="#fff" stroke="#000" stroke-width="1"/>
<rect x="291" y="682" width="1" height="12"/>
<rect x="294" y="682" width="1" height="12"/>
<polygon points="293,671.3 287.1,681.8 298.9,681.8" fill="#fff" stroke="#000" stroke-width="1"/>
<rect x="397" y="682" width="1" height="12"/>
<rect x="400" y="682" width="1" height="12"/>
<polygon points="399,671.3 393.1,681.8 404.9,681.8" fill="#fff" stroke="#000" stroke-width="1"/>
<rect x="41" y="693" width="87" height="1"/>
<rect x="130" y="693" width="81" height="1"/>
<rect x="213" y="693" width="79" height="1"/>
<rect x="294" y="693" width="104" height="1"/>
<rect x="400" y="693" width="71" height="1"/>
<rect x="38" y="697" width="510" height="1"/>
<rect x="543" y="681" width="1" height="13"/>
<rect x="547" y="681" width="1" height="17"/>
<rect x="474" y="693" width="70" height="1"/>
<polygon points="545.5,671.3 539.6,681.8 551.4,681.8" fill="#fff" stroke="#000" stroke-width="1"/>
<rect x="171" y="697" width="1" height="11"/>
<rect x="174" y="697" width="1" height="11"/>
<polygon points="173.5,717.2 167.5,706.7 179.5,706.7" fill="#fff" stroke="#000" stroke-width="1"/>
<rect x="343" y="697" width="1" height="13"/>
<rect x="347" y="697" width="1" height="13"/>
<polygon points="345.5,717.2 339.7,708.7 351.3,708.7" fill="#fff" stroke="#000" stroke-width="1"/>
<rect x="488" y="706" width="1" height="114"/>
<rect x="491" y="706" width="1" height="111"/>
<polygon points="490,697.3 485,706.3 495,706.3" fill="#fff" stroke="#000" stroke-width="1"/>
<rect x="488" y="819" width="55" height="1"/>
<rect x="491" y="816" width="49" height="1"/>
<rect x="539" y="810" width="1" height="7"/>
<rect x="542" y="810" width="1" height="10"/>
<polygon points="541,800.3 535.5,810.3 546.5,810.3" fill="#fff" stroke="#000" stroke-width="1"/>
<text x="498" y="736" font-size="9.3" text-anchor="middle">8</text>
<line x1="486" y1="737" x2="493.4" y2="726.7" stroke="#000" stroke-width="0.9"/>
<rect x="539" y="707" width="1" height="12"/>
<rect x="543" y="707" width="1" height="12"/>
<polygon points="541.5,697.3 536.0,706.8 547.0,706.8" fill="#fff" stroke="#000" stroke-width="1"/>
<polygon points="541.5,727.6 536.0,718.1 547.0,718.1" fill="#fff" stroke="#000" stroke-width="1"/>
<rect x="509" y="728" width="65" height="1"/>
<rect x="509" y="800" width="65" height="1"/>
<rect x="509" y="728" width="1" height="73"/>
<rect x="573" y="728" width="1" height="73"/>
<rect x="509" y="741" width="65" height="1"/>
<rect x="509" y="787" width="65" height="1"/>
<text x="541.6" y="737.6" font-size="9.3" text-anchor="middle">EEDATA</text>
<text x="541.6" y="752.4" font-size="9.3" text-anchor="middle">128<tspan font-size="7.8" dy="-3.5">(2)</tspan><tspan dy="3.5">/</tspan></text>
<text x="541.6" y="761.8" font-size="9.3" text-anchor="middle">256 Bytes</text>
<text x="541.6" y="771.7" font-size="9.3" text-anchor="middle">Data</text>
<text x="541.6" y="784" font-size="9.3" text-anchor="middle">EEPROM</text>
<text x="541.6" y="796.9" font-size="9.3" text-anchor="middle">EEADDR</text>
<rect x="95" y="717" width="149" height="1"/>
<rect x="95" y="751" width="149" height="1"/>
<rect x="95" y="717" width="1" height="35"/>
<rect x="243" y="717" width="1" height="35"/>
<text x="168.4" y="732.4" font-size="9.3" text-anchor="middle">Analog-To-Digital Converter</text>
<text x="168.4" y="743.6" font-size="9.3" text-anchor="middle">(ADC)</text>
<text x="64" y="732" font-size="9.3" text-anchor="end">V<tspan font-size="7">REF+</tspan></text>
<line x1="68" y1="725" x2="77" y2="734" stroke="#333" stroke-width="0.85"/>
<line x1="77" y1="725" x2="68" y2="734" stroke="#333" stroke-width="0.85"/>
<rect x="67" y="724" width="11" height="1"/>
<rect x="67" y="734" width="11" height="1"/>
<rect x="67" y="724" width="1" height="11"/>
<rect x="77" y="724" width="1" height="11"/>
<rect x="77" y="729" width="14" height="1"/>
<polygon points="95,729.5 90,727.5 90,731.5"/>
<text x="64" y="745" font-size="9.3" text-anchor="end">V<tspan font-size="7">REF-</tspan></text>
<line x1="68" y1="738" x2="77" y2="747" stroke="#333" stroke-width="0.85"/>
<line x1="77" y1="738" x2="68" y2="747" stroke="#333" stroke-width="0.85"/>
<rect x="67" y="737" width="11" height="1"/>
<rect x="67" y="747" width="11" height="1"/>
<rect x="67" y="737" width="1" height="11"/>
<rect x="77" y="737" width="1" height="11"/>
<rect x="77" y="741" width="14" height="1"/>
<polygon points="95,741.5 90,739.5 90,743.5"/>
<line x1="108" y1="770" x2="118" y2="780" stroke="#333" stroke-width="0.85"/>
<line x1="118" y1="770" x2="108" y2="780" stroke="#333" stroke-width="0.85"/>
<rect x="107" y="769" width="12" height="1"/>
<rect x="107" y="780" width="12" height="1"/>
<rect x="107" y="769" width="1" height="12"/>
<rect x="118" y="769" width="1" height="12"/>
<rect x="113" y="757" width="1" height="12"/>
<polygon points="113.5,752 111.5,757 115.5,757"/>
<text x="116.5" y="784.5" font-size="9.3" text-anchor="end" transform="rotate(-90 116.5 784.5)">AN0</text>
<line x1="119" y1="770" x2="129" y2="780" stroke="#333" stroke-width="0.85"/>
<line x1="129" y1="770" x2="119" y2="780" stroke="#333" stroke-width="0.85"/>
<rect x="118" y="769" width="12" height="1"/>
<rect x="118" y="780" width="12" height="1"/>
<rect x="118" y="769" width="1" height="12"/>
<rect x="129" y="769" width="1" height="12"/>
<rect x="124" y="757" width="1" height="12"/>
<polygon points="124.5,752 122.5,757 126.5,757"/>
<text x="127.5" y="784.5" font-size="9.3" text-anchor="end" transform="rotate(-90 127.5 784.5)">AN1</text>
<line x1="130" y1="770" x2="140" y2="780" stroke="#333" stroke-width="0.85"/>
<line x1="140" y1="770" x2="130" y2="780" stroke="#333" stroke-width="0.85"/>
<rect x="129" y="769" width="12" height="1"/>
<rect x="129" y="780" width="12" height="1"/>
<rect x="129" y="769" width="1" height="12"/>
<rect x="140" y="769" width="1" height="12"/>
<rect x="135" y="757" width="1" height="12"/>
<polygon points="135.5,752 133.5,757 137.5,757"/>
<text x="138.5" y="784.5" font-size="9.3" text-anchor="end" transform="rotate(-90 138.5 784.5)">AN2</text>
<line x1="141" y1="770" x2="151" y2="780" stroke="#333" stroke-width="0.85"/>
<line x1="151" y1="770" x2="141" y2="780" stroke="#333" stroke-width="0.85"/>
<rect x="140" y="769" width="12" height="1"/>
<rect x="140" y="780" width="12" height="1"/>
<rect x="140" y="769" width="1" height="12"/>
<rect x="151" y="769" width="1" height="12"/>
<rect x="146" y="757" width="1" height="12"/>
<polygon points="146.5,752 144.5,757 148.5,757"/>
<text x="149.5" y="784.5" font-size="9.3" text-anchor="end" transform="rotate(-90 149.5 784.5)">AN3</text>
<line x1="152" y1="770" x2="162" y2="780" stroke="#333" stroke-width="0.85"/>
<line x1="162" y1="770" x2="152" y2="780" stroke="#333" stroke-width="0.85"/>
<rect x="151" y="769" width="12" height="1"/>
<rect x="151" y="780" width="12" height="1"/>
<rect x="151" y="769" width="1" height="12"/>
<rect x="162" y="769" width="1" height="12"/>
<rect x="157" y="757" width="1" height="12"/>
<polygon points="157.5,752 155.5,757 159.5,757"/>
<text x="160.5" y="784.5" font-size="9.3" text-anchor="end" transform="rotate(-90 160.5 784.5)">AN4</text>
<line x1="163" y1="770" x2="173" y2="780" stroke="#333" stroke-width="0.85"/>
<line x1="173" y1="770" x2="163" y2="780" stroke="#333" stroke-width="0.85"/>
<rect x="162" y="769" width="12" height="1"/>
<rect x="162" y="780" width="12" height="1"/>
<rect x="162" y="769" width="1" height="12"/>
<rect x="173" y="769" width="1" height="12"/>
<rect x="168" y="757" width="1" height="12"/>
<polygon points="168.5,752 166.5,757 170.5,757"/>
<text x="171.5" y="784.5" font-size="9.3" text-anchor="end" transform="rotate(-90 171.5 784.5)">AN8</text>
<line x1="174" y1="770" x2="184" y2="780" stroke="#333" stroke-width="0.85"/>
<line x1="184" y1="770" x2="174" y2="780" stroke="#333" stroke-width="0.85"/>
<rect x="173" y="769" width="12" height="1"/>
<rect x="173" y="780" width="12" height="1"/>
<rect x="173" y="769" width="1" height="12"/>
<rect x="184" y="769" width="1" height="12"/>
<rect x="179" y="757" width="1" height="12"/>
<polygon points="179.5,752 177.5,757 181.5,757"/>
<text x="182.5" y="784.5" font-size="9.3" text-anchor="end" transform="rotate(-90 182.5 784.5)">AN9</text>
<line x1="185" y1="770" x2="195" y2="780" stroke="#333" stroke-width="0.85"/>
<line x1="195" y1="770" x2="185" y2="780" stroke="#333" stroke-width="0.85"/>
<rect x="184" y="769" width="12" height="1"/>
<rect x="184" y="780" width="12" height="1"/>
<rect x="184" y="769" width="1" height="12"/>
<rect x="195" y="769" width="1" height="12"/>
<rect x="190" y="757" width="1" height="12"/>
<polygon points="190.5,752 188.5,757 192.5,757"/>
<text x="193.5" y="784.5" font-size="9.3" text-anchor="end" transform="rotate(-90 193.5 784.5)">AN10</text>
<line x1="196" y1="770" x2="206" y2="780" stroke="#333" stroke-width="0.85"/>
<line x1="206" y1="770" x2="196" y2="780" stroke="#333" stroke-width="0.85"/>
<rect x="195" y="769" width="12" height="1"/>
<rect x="195" y="780" width="12" height="1"/>
<rect x="195" y="769" width="1" height="12"/>
<rect x="206" y="769" width="1" height="12"/>
<rect x="201" y="757" width="1" height="12"/>
<polygon points="201.5,752 199.5,757 203.5,757"/>
<text x="204.5" y="784.5" font-size="9.3" text-anchor="end" transform="rotate(-90 204.5 784.5)">AN11</text>
<line x1="207" y1="770" x2="217" y2="780" stroke="#333" stroke-width="0.85"/>
<line x1="217" y1="770" x2="207" y2="780" stroke="#333" stroke-width="0.85"/>
<rect x="206" y="769" width="12" height="1"/>
<rect x="206" y="780" width="12" height="1"/>
<rect x="206" y="769" width="1" height="12"/>
<rect x="217" y="769" width="1" height="12"/>
<rect x="212" y="757" width="1" height="12"/>
<polygon points="212.5,752 210.5,757 214.5,757"/>
<text x="215.5" y="784.5" font-size="9.3" text-anchor="end" transform="rotate(-90 215.5 784.5)">AN12</text>
<line x1="218" y1="770" x2="228" y2="780" stroke="#333" stroke-width="0.85"/>
<line x1="228" y1="770" x2="218" y2="780" stroke="#333" stroke-width="0.85"/>
<rect x="217" y="769" width="12" height="1"/>
<rect x="217" y="780" width="12" height="1"/>
<rect x="217" y="769" width="1" height="12"/>
<rect x="228" y="769" width="1" height="12"/>
<rect x="223" y="757" width="1" height="12"/>
<polygon points="223.5,752 221.5,757 225.5,757"/>
<text x="226.5" y="784.5" font-size="9.3" text-anchor="end" transform="rotate(-90 226.5 784.5)">AN13</text>
<rect x="282" y="717" width="130" height="1"/>
<rect x="282" y="751" width="130" height="1"/>
<rect x="282" y="717" width="1" height="35"/>
<rect x="411" y="717" width="1" height="35"/>
<text x="346.4" y="732.4" font-size="9.3" text-anchor="middle">2 Analog Comparators</text>
<text x="346.4" y="744.3" font-size="9.3" text-anchor="middle">and Reference</text>
<line x1="304" y1="770" x2="314" y2="780" stroke="#333" stroke-width="0.85"/>
<line x1="314" y1="770" x2="304" y2="780" stroke="#333" stroke-width="0.85"/>
<rect x="303" y="769" width="12" height="1"/>
<rect x="303" y="780" width="12" height="1"/>
<rect x="303" y="769" width="1" height="12"/>
<rect x="314" y="769" width="1" height="12"/>
<rect x="309" y="757" width="1" height="12"/>
<polygon points="309.5,752 307.5,757 311.5,757"/>
<text x="312.5" y="785" font-size="9.3" text-anchor="end" transform="rotate(-90 312.5 785)">C1IN+</text>
<line x1="315" y1="770" x2="325" y2="780" stroke="#333" stroke-width="0.85"/>
<line x1="325" y1="770" x2="315" y2="780" stroke="#333" stroke-width="0.85"/>
<rect x="314" y="769" width="12" height="1"/>
<rect x="314" y="780" width="12" height="1"/>
<rect x="314" y="769" width="1" height="12"/>
<rect x="325" y="769" width="1" height="12"/>
<rect x="320" y="757" width="1" height="12"/>
<polygon points="320.5,752 318.5,757 322.5,757"/>
<text x="323.5" y="785" font-size="9.3" text-anchor="end" transform="rotate(-90 323.5 785)">C12IN0-</text>
<line x1="326" y1="770" x2="336" y2="780" stroke="#333" stroke-width="0.85"/>
<line x1="336" y1="770" x2="326" y2="780" stroke="#333" stroke-width="0.85"/>
<rect x="325" y="769" width="12" height="1"/>
<rect x="325" y="780" width="12" height="1"/>
<rect x="325" y="769" width="1" height="12"/>
<rect x="336" y="769" width="1" height="12"/>
<rect x="331" y="757" width="1" height="12"/>
<polygon points="331.5,752 329.5,757 333.5,757"/>
<text x="334.5" y="785" font-size="9.3" text-anchor="end" transform="rotate(-90 334.5 785)">C12IN1-</text>
<line x1="337" y1="770" x2="347" y2="780" stroke="#333" stroke-width="0.85"/>
<line x1="347" y1="770" x2="337" y2="780" stroke="#333" stroke-width="0.85"/>
<rect x="336" y="769" width="12" height="1"/>
<rect x="336" y="780" width="12" height="1"/>
<rect x="336" y="769" width="1" height="12"/>
<rect x="347" y="769" width="1" height="12"/>
<rect x="342" y="757" width="1" height="12"/>
<polygon points="342.5,752 340.5,757 344.5,757"/>
<text x="345.5" y="785" font-size="9.3" text-anchor="end" transform="rotate(-90 345.5 785)">C12IN2-</text>
<line x1="348" y1="770" x2="358" y2="780" stroke="#333" stroke-width="0.85"/>
<line x1="358" y1="770" x2="348" y2="780" stroke="#333" stroke-width="0.85"/>
<rect x="347" y="769" width="12" height="1"/>
<rect x="347" y="780" width="12" height="1"/>
<rect x="347" y="769" width="1" height="12"/>
<rect x="358" y="769" width="1" height="12"/>
<rect x="353" y="757" width="1" height="12"/>
<polygon points="353.5,752 351.5,757 355.5,757"/>
<text x="356.5" y="785" font-size="9.3" text-anchor="end" transform="rotate(-90 356.5 785)">C12IN3-</text>
<line x1="359" y1="770" x2="369" y2="780" stroke="#333" stroke-width="0.85"/>
<line x1="369" y1="770" x2="359" y2="780" stroke="#333" stroke-width="0.85"/>
<rect x="358" y="769" width="12" height="1"/>
<rect x="358" y="780" width="12" height="1"/>
<rect x="358" y="769" width="1" height="12"/>
<rect x="369" y="769" width="1" height="12"/>
<rect x="364" y="752" width="1" height="12"/>
<polygon points="364.5,768 362.5,763 366.5,763"/>
<text x="367.5" y="785" font-size="9.3" text-anchor="end" transform="rotate(-90 367.5 785)">C1OUT</text>
<line x1="370" y1="770" x2="380" y2="780" stroke="#333" stroke-width="0.85"/>
<line x1="380" y1="770" x2="370" y2="780" stroke="#333" stroke-width="0.85"/>
<rect x="369" y="769" width="12" height="1"/>
<rect x="369" y="780" width="12" height="1"/>
<rect x="369" y="769" width="1" height="12"/>
<rect x="380" y="769" width="1" height="12"/>
<rect x="375" y="757" width="1" height="12"/>
<polygon points="375.5,752 373.5,757 377.5,757"/>
<text x="378.5" y="785" font-size="9.3" text-anchor="end" transform="rotate(-90 378.5 785)">C2IN+</text>
<line x1="381" y1="770" x2="391" y2="780" stroke="#333" stroke-width="0.85"/>
<line x1="391" y1="770" x2="381" y2="780" stroke="#333" stroke-width="0.85"/>
<rect x="380" y="769" width="12" height="1"/>
<rect x="380" y="780" width="12" height="1"/>
<rect x="380" y="769" width="1" height="12"/>
<rect x="391" y="769" width="1" height="12"/>
<rect x="386" y="752" width="1" height="12"/>
<polygon points="386.5,768 384.5,763 388.5,763"/>
<text x="389.5" y="785" font-size="9.3" text-anchor="end" transform="rotate(-90 389.5 785)">C2OUT</text>
<line x1="429" y1="718" x2="439" y2="727" stroke="#333" stroke-width="0.85"/>
<line x1="439" y1="718" x2="429" y2="727" stroke="#333" stroke-width="0.85"/>
<rect x="428" y="717" width="12" height="1"/>
<rect x="428" y="727" width="12" height="1"/>
<rect x="428" y="717" width="1" height="11"/>
<rect x="439" y="717" width="1" height="11"/>
<rect x="416" y="722" width="13" height="1"/>
<polygon points="411.5,722.5 416.5,720.5 416.5,724.5"/>
<text x="440" y="725.5" font-size="9.3" text-anchor="start">V<tspan font-size="7">REF+</tspan></text>
<line x1="429" y1="730" x2="439" y2="739" stroke="#333" stroke-width="0.85"/>
<line x1="439" y1="730" x2="429" y2="739" stroke="#333" stroke-width="0.85"/>
<rect x="428" y="729" width="12" height="1"/>
<rect x="428" y="739" width="12" height="1"/>
<rect x="428" y="729" width="1" height="11"/>
<rect x="439" y="729" width="1" height="11"/>
<rect x="416" y="734" width="13" height="1"/>
<polygon points="411.5,734.5 416.5,732.5 416.5,736.5"/>
<text x="440" y="737.5" font-size="9.3" text-anchor="start">V<tspan font-size="7">REF-</tspan></text>
<line x1="429" y1="743" x2="439" y2="752" stroke="#333" stroke-width="0.85"/>
<line x1="439" y1="743" x2="429" y2="752" stroke="#333" stroke-width="0.85"/>
<rect x="428" y="742" width="12" height="1"/>
<rect x="428" y="752" width="12" height="1"/>
<rect x="428" y="742" width="1" height="11"/>
<rect x="439" y="742" width="1" height="11"/>
<rect x="416" y="747" width="13" height="1"/>
<polygon points="411.5,747.5 416.5,745.5 416.5,749.5"/>
<text x="440" y="750.5" font-size="9.3" text-anchor="start">CV<tspan font-size="7">REF</tspan></text>
<line x1="276" y1="602" x2="287" y2="613" stroke="#333" stroke-width="0.85"/>
<line x1="287" y1="602" x2="276" y2="613" stroke="#333" stroke-width="0.85"/>
<rect x="275" y="601" width="13" height="1"/>
<rect x="275" y="613" width="13" height="1"/>
<rect x="275" y="601" width="1" height="13"/>
<rect x="287" y="601" width="1" height="13"/>
<rect x="281" y="618" width="1" height="9"/>
<polygon points="281.0,614 279.0,618.5 283.0,618.5"/>
<polygon points="281.0,631 279.0,626.5 283.0,626.5"/>
<text x="283.0" y="598" font-size="9.3" text-anchor="start" transform="rotate(-90 283.0 598)">TX/CK</text>
<line x1="301" y1="602" x2="311" y2="613" stroke="#333" stroke-width="0.85"/>
<line x1="311" y1="602" x2="301" y2="613" stroke="#333" stroke-width="0.85"/>
<rect x="300" y="601" width="12" height="1"/>
<rect x="300" y="613" width="12" height="1"/>
<rect x="300" y="601" width="1" height="13"/>
<rect x="311" y="601" width="1" height="13"/>
<rect x="305" y="618" width="1" height="9"/>
<polygon points="305.5,614 303.5,618.5 307.5,618.5"/>
<polygon points="305.5,631 303.5,626.5 307.5,626.5"/>
<text x="307.5" y="598" font-size="9.3" text-anchor="start" transform="rotate(-90 307.5 598)">RX/DT</text>
<rect x="570" y="587" width="1" height="12"/>
<line x1="366" y1="603" x2="376" y2="613" stroke="#333" stroke-width="0.85"/>
<line x1="376" y1="603" x2="366" y2="613" stroke="#333" stroke-width="0.85"/>
<rect x="365" y="602" width="12" height="1"/>
<rect x="365" y="613" width="12" height="1"/>
<rect x="365" y="602" width="1" height="12"/>
<rect x="376" y="602" width="1" height="12"/>
<rect x="370" y="618" width="1" height="9"/>
<polygon points="370.5,614 368.5,618.5 372.5,618.5"/>
<polygon points="370.5,631 368.5,626.5 372.5,626.5"/>
<text x="372.5" y="598" font-size="9.3" text-anchor="start" transform="rotate(-90 372.5 598)">CCP1/P1A</text>
<line x1="385" y1="603" x2="395" y2="613" stroke="#333" stroke-width="0.85"/>
<line x1="395" y1="603" x2="385" y2="613" stroke="#333" stroke-width="0.85"/>
<rect x="384" y="602" width="12" height="1"/>
<rect x="384" y="613" width="12" height="1"/>
<rect x="384" y="602" width="1" height="12"/>
<rect x="395" y="602" width="1" height="12"/>
<rect x="389" y="618" width="1" height="13"/>
<polygon points="389.5,614 387.5,618.5 391.5,618.5"/>
<text x="391.5" y="598" font-size="9.3" text-anchor="start" transform="rotate(-90 391.5 598)">P1B</text>
<line x1="404" y1="603" x2="414" y2="613" stroke="#333" stroke-width="0.85"/>
<line x1="414" y1="603" x2="404" y2="613" stroke="#333" stroke-width="0.85"/>
<rect x="403" y="602" width="12" height="1"/>
<rect x="403" y="613" width="12" height="1"/>
<rect x="403" y="602" width="1" height="12"/>
<rect x="414" y="602" width="1" height="12"/>
<rect x="408" y="618" width="1" height="13"/>
<polygon points="408.5,614 406.5,618.5 410.5,618.5"/>
<text x="410.5" y="598" font-size="9.3" text-anchor="start" transform="rotate(-90 410.5 598)">P1C</text>
<line x1="423" y1="603" x2="433" y2="613" stroke="#333" stroke-width="0.85"/>
<line x1="433" y1="603" x2="423" y2="613" stroke="#333" stroke-width="0.85"/>
<rect x="422" y="602" width="12" height="1"/>
<rect x="422" y="613" width="12" height="1"/>
<rect x="422" y="602" width="1" height="12"/>
<rect x="433" y="602" width="1" height="12"/>
<rect x="427" y="618" width="1" height="13"/>
<polygon points="427.5,614 425.5,618.5 429.5,618.5"/>
<text x="429.5" y="598" font-size="9.3" text-anchor="start" transform="rotate(-90 429.5 598)">P1D</text>
<line x1="515" y1="603" x2="525" y2="613" stroke="#333" stroke-width="0.85"/>
<line x1="525" y1="603" x2="515" y2="613" stroke="#333" stroke-width="0.85"/>
<rect x="514" y="602" width="12" height="1"/>
<rect x="514" y="613" width="12" height="1"/>
<rect x="514" y="602" width="1" height="12"/>
<rect x="525" y="602" width="1" height="12"/>
<rect x="519" y="618" width="1" height="13"/>
<polygon points="519.5,614 517.5,618.5 521.5,618.5"/>
<text x="521.5" y="598" font-size="9.3" text-anchor="start" transform="rotate(-90 521.5 598)">SDO</text>
<line x1="534" y1="603" x2="544" y2="613" stroke="#333" stroke-width="0.85"/>
<line x1="544" y1="603" x2="534" y2="613" stroke="#333" stroke-width="0.85"/>
<rect x="533" y="602" width="12" height="1"/>
<rect x="533" y="613" width="12" height="1"/>
<rect x="533" y="602" width="1" height="12"/>
<rect x="544" y="602" width="1" height="12"/>
<rect x="538" y="618" width="1" height="9"/>
<polygon points="538.5,614 536.5,618.5 540.5,618.5"/>
<polygon points="538.5,631 536.5,626.5 540.5,626.5"/>
<text x="540.5" y="598" font-size="9.3" text-anchor="start" transform="rotate(-90 540.5 598)">SDI/SDA</text>
<line x1="553" y1="603" x2="563" y2="613" stroke="#333" stroke-width="0.85"/>
<line x1="563" y1="603" x2="553" y2="613" stroke="#333" stroke-width="0.85"/>
<rect x="552" y="602" width="12" height="1"/>
<rect x="552" y="613" width="12" height="1"/>
<rect x="552" y="602" width="1" height="12"/>
<rect x="563" y="602" width="1" height="12"/>
<rect x="557" y="618" width="1" height="9"/>
<polygon points="557.5,614 555.5,618.5 559.5,618.5"/>
<polygon points="557.5,631 555.5,626.5 559.5,626.5"/>
<text x="559.5" y="598" font-size="9.3" text-anchor="start" transform="rotate(-90 559.5 598)">SCK/SCL</text>
<line x1="572" y1="603" x2="582" y2="613" stroke="#333" stroke-width="0.85"/>
<line x1="582" y1="603" x2="572" y2="613" stroke="#333" stroke-width="0.85"/>
<rect x="571" y="602" width="12" height="1"/>
<rect x="571" y="613" width="12" height="1"/>
<rect x="571" y="602" width="1" height="12"/>
<rect x="582" y="602" width="1" height="12"/>
<rect x="576" y="613" width="1" height="14"/>
<polygon points="576.5,631 574.5,626.5 578.5,626.5"/>
<text x="578.5" y="598" font-size="9.3" text-anchor="start" transform="rotate(-90 578.5 598)">SS</text>
<text x="33.7" y="824.8" font-size="9.3" text-anchor="start" font-weight="bold">Note</text>
<text x="67" y="824.8" font-size="9.3" text-anchor="start" font-weight="bold">1:</text>
<text x="67" y="836.6" font-size="9.3" text-anchor="start" font-weight="bold">2:</text>
<text x="91" y="824.8" font-size="9.3" text-anchor="start">PIC16F883 only.</text>
<text x="91" y="836.6" font-size="9.3" text-anchor="start">MemHigh only.</text>
</g>
</svg>
</body></html>
